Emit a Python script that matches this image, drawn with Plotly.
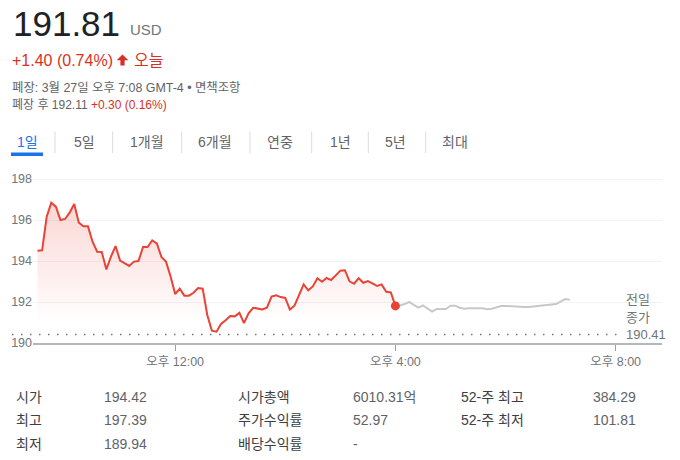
import plotly.graph_objects as go
import pandas as pd

# ---------------- data ----------------
regular_prices = [
    194.50, 194.52, 196.16, 196.84, 196.65, 196.00, 196.05, 196.36, 196.78, 195.87,
    195.69, 195.69, 194.94, 194.45, 194.44, 193.59, 194.21, 194.73, 194.02, 193.89,
    193.76, 193.97, 194.00, 194.68, 194.68, 195.01, 194.86, 194.20, 193.97, 193.24,
    192.39, 192.65, 192.31, 192.31, 192.45, 192.68, 192.65, 191.37, 190.60, 190.55,
    190.93, 191.11, 191.32, 191.30, 191.47, 190.97, 191.45, 191.72, 191.69, 191.64,
    191.72, 192.26, 192.33, 192.24, 192.20, 191.63, 191.82, 192.37, 192.86, 192.57,
    192.76, 193.16, 192.99, 193.17, 193.07, 193.30, 193.53, 193.55, 193.01, 192.89,
    193.16, 192.94, 193.02, 192.91, 192.78, 192.86, 192.50, 192.47, 191.81,
]
after_prices = [
    191.81, 191.83, 191.90, 192.00, 191.86, 191.73, 191.83, 191.70, 191.53, 191.66,
    191.65, 191.66, 191.82, 191.82, 191.72, 191.67, 191.69, 191.71, 191.70, 191.69,
    191.65, 191.67, 191.72, 191.80, 191.81, 191.79, 191.78, 191.76, 191.76, 191.76,
    191.78, 191.80, 191.84, 191.87, 191.89, 191.90, 192.02, 192.14, 192.11,
]
prev_close = 190.41
close_price = 191.81
y_ticks = [190, 192, 194, 196, 198]
x_tick_times = ["2024-03-27 12:00", "2024-03-27 16:00", "2024-03-27 20:00"]
x_tick_labels = ["오후 12:00", "오후 4:00", "오후 8:00"]
tab_labels = ["1일", "5일", "1개월", "6개월", "연중", "1년", "5년", "최대"]
stat_labels_1 = ["시가", "최고", "최저"]
stat_values_1 = ["194.42", "197.39", "189.94"]
stat_labels_2 = ["시가총액", "주가수익률", "배당수익률"]
stat_values_2 = ["6010.31억", "52.97", "-"]
stat_labels_3 = ["52-주 최고", "52-주 최저"]
stat_values_3 = ["384.29", "101.81"]

regular_times = pd.date_range("2024-03-27 09:30", periods=len(regular_prices), freq="5min")
after_times = pd.date_range("2024-03-27 16:00", periods=len(after_prices), freq="5min")

# ---------------- layout helpers ----------------
W, H = 680, 460
def X(px):
    return px / W
def Y(py):
    return 1 - py / H

FONT = "Liberation Sans, Arial, Noto Sans CJK KR, sans-serif"
RED = "#d93025"
LINE_RED = "#ea4335"
GRAY = "#70757a"
DARK = "#202124"

fig = go.Figure()

fig.add_trace(go.Scatter(
    x=regular_times, y=regular_prices, mode="lines",
    line=dict(color=LINE_RED, width=2),
    fill="tozeroy",
    fillgradient=dict(type="vertical", start=191.0, stop=197.0,
                      colorscale=[[0, "rgba(234,67,53,0)"], [1, "rgba(234,67,53,0.22)"]]),
    hoverinfo="skip", showlegend=False,
))
fig.add_trace(go.Scatter(
    x=after_times, y=after_prices, mode="lines",
    line=dict(color="#c8c8c8", width=2),
    hoverinfo="skip", showlegend=False,
))
fig.add_trace(go.Scatter(
    x=[regular_times[-1]], y=[close_price], mode="markers",
    marker=dict(color=LINE_RED, size=9),
    hoverinfo="skip", showlegend=False,
))

annotations = []
def txt(text, px, py, size, color, xanchor="left"):
    annotations.append(dict(text=text, x=X(px), y=Y(py), xref="paper", yref="paper",
                            xanchor=xanchor, yanchor="middle", showarrow=False,
                            font=dict(size=size, color=color, family=FONT)))

shapes = []

# header
txt("191.81", 11, 23, 35, DARK)
txt("USD", 128, 30, 15, GRAY)
txt("+1.40 (0.74%)", 10, 60, 16, RED)
arrow_pts = [(122.5, 54.5), (128.3, 60.3), (124.6, 60.3), (124.6, 65.5),
             (120.4, 65.5), (120.4, 60.3), (116.7, 60.3)]
path = "M " + " L ".join("%.5f,%.5f" % (X(a), Y(b)) for a, b in arrow_pts) + " Z"
shapes.append(dict(type="path", xref="paper", yref="paper", path=path,
                   fillcolor=RED, line=dict(width=0)))
txt("오늘", 132, 60, 16, RED)
txt("폐장: 3월 27일 오후 7:08 GMT-4 • 면책조항", 10, 87, 12.4, "#5f6368")
txt("폐장 후 192.11 <span style='color:%s'>+0.30 (0.16%%)</span>" % RED, 10, 105, 12, "#5f6368")

# tabs
tab_centers = [27, 84, 147, 215, 280, 340, 395.5, 455]
for i, (lab, cx) in enumerate(zip(tab_labels, tab_centers)):
    txt(lab, cx, 142, 14, "#1a73e8" if i == 0 else "#5f6368", xanchor="center")

for sx in [55, 112.7, 181.7, 250, 311.7, 368.3, 425.7]:
    shapes.append(dict(type="line", xref="paper", yref="paper",
                       x0=X(sx), x1=X(sx), y0=Y(131.5), y1=Y(153),
                       line=dict(color="#dadce0", width=1)))
shapes.append(dict(type="rect", xref="paper", yref="paper",
                   x0=X(11), x1=X(43), y0=Y(156), y1=Y(152.5),
                   fillcolor="#1a73e8", line=dict(width=0)))

# previous close dotted line
shapes.append(dict(type="line", xref="paper", yref="y",
                   x0=X(12), x1=X(617), y0=prev_close, y1=prev_close,
                   line=dict(color="#70757a", width=1.5, dash="1.5px,7.5px")))
txt("전일", 624, 299, 13, GRAY)
txt("종가", 624, 317, 13, GRAY)
txt("%.2f" % prev_close, 624, 334, 13, GRAY)

# stats table
rows_y = [396.5, 420, 444]
for i in range(3):
    txt(stat_labels_1[i], 14, rows_y[i], 14, "#3c4043")
    txt(stat_values_1[i], 102, rows_y[i], 14, "#5f6368")
    txt(stat_labels_2[i], 236, rows_y[i], 14, "#3c4043")
    txt(stat_values_2[i], 351, rows_y[i], 14, "#5f6368")
for i in range(2):
    txt(stat_labels_3[i], 459, rows_y[i], 14, "#3c4043")
    txt(stat_values_3[i], 591, rows_y[i], 14, "#5f6368")

fig.update_layout(
    width=W, height=H, autosize=False,
    margin=dict(l=0, r=0, t=0, b=0),
    paper_bgcolor="white", plot_bgcolor="white",
    font=dict(family=FONT),
    annotations=annotations, shapes=shapes,
    xaxis=dict(
        domain=[X(33), X(662)],
        range=["2024-03-27 09:25:05", "2024-03-27 20:50:30"],
        tickvals=x_tick_times, ticktext=x_tick_labels,
        showgrid=False, zeroline=False,
        showline=True, linecolor="#b4b7bb", linewidth=1.5,
        ticks="outside", ticklen=6, tickcolor="#9aa0a6", tickwidth=1,
        tickfont=dict(size=12.5, color=GRAY, family=FONT),
        automargin=False, fixedrange=True,
    ),
    yaxis=dict(
        domain=[Y(343), Y(171)],
        range=[190, 190 + 172 / 20.5],
        tickvals=y_ticks, ticktext=[str(v) for v in y_ticks],
        showgrid=True, gridcolor="#f1f3f4", gridwidth=1,
        zeroline=False, showline=False, ticks="",
        tickfont=dict(size=12.5, color=GRAY, family=FONT),
        automargin=False, fixedrange=True,
    ),
)

fig.write_html("out.html")
